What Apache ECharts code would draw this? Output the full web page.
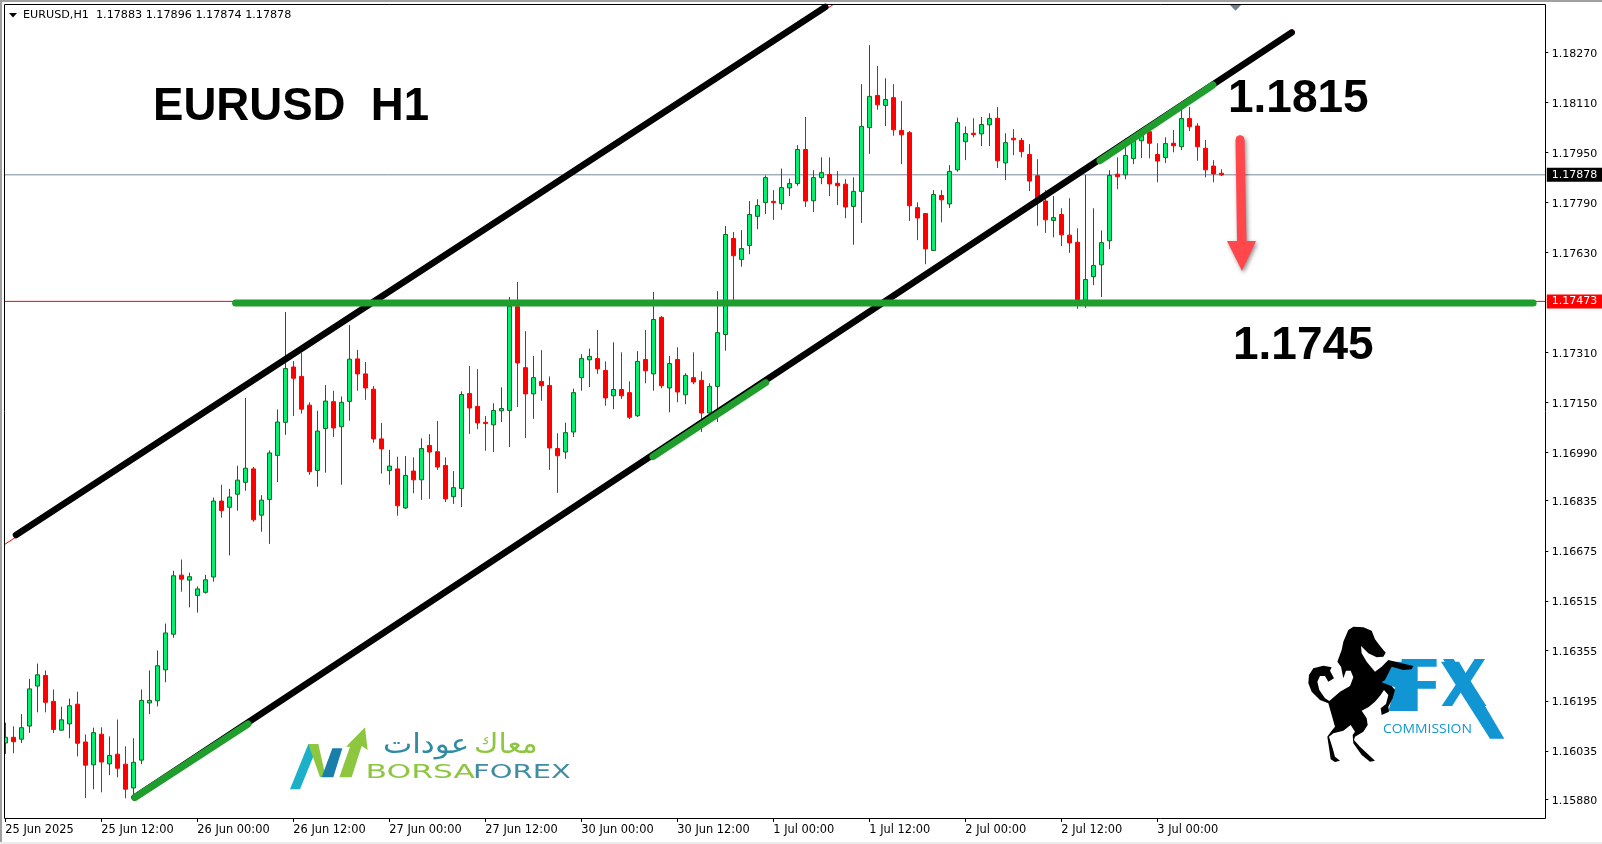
<!DOCTYPE html>
<html>
<head>
<meta charset="utf-8">
<style>html,body{margin:0;padding:0;background:#fff;overflow:hidden}#c{width:1602px;height:844px}</style>
<script src="https://cdn.jsdelivr.net/npm/echarts@6/dist/echarts.min.js"></script>
</head>
<body>
<div id="c"></div>
<script>
const opens = [
1.16060,1.16078,1.16072,1.16114,1.16242,1.16276,1.16193,1.16101,1.16121,1.16184,
1.16063,1.15990,1.16088,1.15993,1.16024,1.15992,1.15916,1.16005,1.16188,1.16195,
1.16294,1.16408,1.16597,1.16581,1.16532,1.16542,1.16591,1.16834,1.16814,1.16856,
1.16894,1.16937,1.16789,1.16839,1.16980,1.17086,1.17263,1.17233,1.17141,1.16932,
1.17066,1.17152,1.17072,1.17153,1.17289,1.17241,1.17192,1.17033,1.16932,1.16937,
1.16812,1.16930,1.16902,1.17012,1.16992,1.16948,1.16848,1.16874,1.17178,1.17137,
1.17086,1.17078,1.17123,1.17124,1.17456,1.17261,1.17177,1.17217,1.17204,1.17002,
1.16991,1.17055,1.17229,1.17286,1.17290,1.17252,1.17171,1.17191,1.17181,1.17107,
1.17287,1.17241,1.17422,1.17196,1.17287,1.17174,1.17229,1.17220,1.17116,1.17201,
1.17367,1.17674,1.17607,1.17652,1.17745,1.17789,1.17793,1.17786,1.17836,1.17850,
1.17959,1.17795,1.17869,1.17879,1.17851,1.17848,1.17777,1.17825,1.18029,1.18132,
1.18100,1.18125,1.18020,1.18013,1.17773,1.17754,1.17636,1.17812,1.17785,1.17894,
1.17984,1.18011,1.18009,1.18038,1.18059,1.17916,1.17995,1.17988,1.17943,1.17875,
1.17794,1.17732,1.17751,1.17685,1.17662,1.17477,1.17552,1.17590,1.17667,1.17880,
1.17878,1.17930,1.17987,1.18016,1.17943,1.17933,1.17979,1.17968,1.18058,1.18034,
1.17963,1.17906,1.17883];
const highs = [
1.16125,1.16113,1.16152,1.16265,1.16314,1.16292,1.16231,1.16176,1.16202,1.16224,
1.16087,1.16109,1.16110,1.16081,1.16135,1.16049,1.16075,1.16231,1.16292,1.16356,
1.16442,1.16611,1.16647,1.16605,1.16561,1.16598,1.16845,1.16886,1.16873,1.16947,
1.17164,1.16943,1.16853,1.16996,1.17127,1.17439,1.17282,1.17308,1.17150,1.17123,
1.17205,1.17187,1.17169,1.17397,1.17318,1.17279,1.17202,1.17084,1.16998,1.16976,
1.16978,1.16974,1.17035,1.17048,1.17090,1.16974,1.16930,1.17185,1.17266,1.17256,
1.17106,1.17147,1.17198,1.17487,1.17535,1.17378,1.17298,1.17317,1.17233,1.17051,
1.17085,1.17194,1.17304,1.17322,1.17381,1.17281,1.17342,1.17310,1.17217,1.17314,
1.17381,1.17503,1.17426,1.17298,1.17326,1.17243,1.17310,1.17249,1.17211,1.17506,
1.17714,1.17695,1.17701,1.17794,1.17800,1.17876,1.17829,1.17898,1.17866,1.17973,
1.18063,1.17893,1.17934,1.17934,1.17890,1.17864,1.17870,1.18168,1.18293,1.18226,
1.18187,1.18168,1.18114,1.18018,1.17790,1.17755,1.17829,1.17829,1.17909,1.18061,
1.18033,1.18059,1.18063,1.18075,1.18095,1.18011,1.18024,1.17996,1.17976,1.17928,
1.17829,1.17810,1.17771,1.17803,1.17707,1.17877,1.17771,1.17700,1.17893,1.17934,
1.17994,1.17994,1.18021,1.18026,1.17979,1.17998,1.18021,1.18090,1.18095,1.18043,
1.17989,1.17925,1.17896];
const lows = [
1.16025,1.16027,1.16060,1.16092,1.16158,1.16158,1.16092,1.16099,1.16075,1.16017,
1.15884,1.15912,1.15902,1.15957,1.15950,1.15883,1.15894,1.15992,1.16152,1.16177,
1.16254,1.16397,1.16544,1.16494,1.16477,1.16538,1.16576,1.16781,1.16660,1.16803,
1.16867,1.16768,1.16736,1.16697,1.16895,1.17046,1.17106,1.17114,1.16918,1.16880,
1.16925,1.17039,1.16886,1.17091,1.17187,1.17158,1.17021,1.16922,1.16886,1.16787,
1.16809,1.16859,1.16838,1.16841,1.16934,1.16831,1.16825,1.16815,1.17049,1.17064,
1.16995,1.16991,1.17087,1.17007,1.17135,1.17036,1.17097,1.17155,1.16934,1.16860,
1.16969,1.17039,1.17187,1.17199,1.17241,1.17139,1.17128,1.17161,1.17096,1.17103,
1.17211,1.17187,1.17195,1.17118,1.17150,1.17144,1.17208,1.17055,1.17114,1.17087,
1.17315,1.17477,1.17584,1.17624,1.17704,1.17753,1.17734,1.17766,1.17810,1.17843,
1.17775,1.17759,1.17848,1.17810,1.17781,1.17739,1.17654,1.17724,1.17945,1.18086,
1.18034,1.18003,1.17912,1.17730,1.17669,1.17592,1.17635,1.17726,1.17772,1.17888,
1.17925,1.17998,1.17970,1.17970,1.17900,1.17861,1.17941,1.17934,1.17826,1.17715,
1.17692,1.17678,1.17650,1.17628,1.17449,1.17452,1.17525,1.17487,1.17640,1.17832,
1.17864,1.17912,1.17932,1.17931,1.17854,1.17916,1.17950,1.17957,1.18018,1.17923,
1.17870,1.17854,1.17874];
const closes = [
1.16078,1.16064,1.16109,1.16233,1.16278,1.16190,1.16103,1.16134,1.16179,1.16059,
1.15989,1.16093,1.15999,1.16020,1.15979,1.15912,1.15998,1.16196,1.16196,1.16307,
1.16412,1.16595,1.16584,1.16592,1.16553,1.16582,1.16834,1.16804,1.16847,1.16901,
1.16939,1.16774,1.16837,1.16988,1.17087,1.17258,1.17227,1.17128,1.16928,1.17058,
1.17154,1.17068,1.17150,1.17288,1.17241,1.17196,1.17033,1.17001,1.16946,1.16819,
1.16916,1.16902,1.17002,1.16991,1.16943,1.16841,1.16877,1.17175,1.17132,1.17084,
1.17082,1.17124,1.17130,1.17458,1.17276,1.17177,1.17229,1.17203,1.17004,1.16979,
1.17053,1.17181,1.17290,1.17297,1.17257,1.17164,1.17191,1.17171,1.17102,1.17281,
1.17251,1.17415,1.17203,1.17274,1.17183,1.17236,1.17215,1.17116,1.17201,1.17373,
1.17687,1.17619,1.17642,1.17751,1.17780,1.17869,1.17789,1.17837,1.17850,1.17959,
1.17794,1.17869,1.17885,1.17849,1.17843,1.17775,1.17825,1.18033,1.18129,1.18102,
1.18119,1.18022,1.18006,1.17779,1.17740,1.17641,1.17815,1.17798,1.17889,1.18045,
1.18010,1.18007,1.18039,1.18058,1.17923,1.17981,1.17990,1.17952,1.17858,1.17802,
1.17734,1.17741,1.17686,1.17660,1.17477,1.17543,1.17588,1.17661,1.17876,1.17872,
1.17940,1.17989,1.18005,1.17979,1.17922,1.17978,1.17971,1.18058,1.18032,1.17968,
1.17894,1.17881,1.17878];

const timeLabels = ['25 Jun 2025','25 Jun 12:00','26 Jun 00:00','26 Jun 12:00','27 Jun 00:00','27 Jun 12:00','30 Jun 00:00','30 Jun 12:00','1 Jul 00:00','1 Jul 12:00','2 Jul 00:00','2 Jul 12:00','3 Jul 00:00'];
const labelEvery = 12;
const slotCount = 193;
const priceTicks = [1.18270,1.18110,1.17950,1.17790,1.17630,1.17310,1.17150,1.16990,1.16835,1.16675,1.16515,1.16355,1.16195,1.16035,1.15880];
const bidPrice = 1.17878;
const markedPrice = 1.17473;

// Trend lines: [bar index, price]
const upperChannel = [[1.34,1.167254],[102.5,1.184150]];
const upperChannelThin = [[0,1.166966],[103.6,1.184246]];
const lowerChannel = [[16.15,1.158854],[160.8,1.183334]];
const lowerChannelThin = [[16.15,1.158854],[161.1,1.183370]];
const lowerSegA = [[16.2,1.158854],[30.34,1.161206]];
const lowerSegB = [[80.96,1.169760],[95.05,1.172128]];
const lowerSegC = [[136.84,1.179232],[150.96,1.181654]];
const support = [[28.78,1.17468],[190.98,1.17468]];

const categories = [];
for (let i = 0; i < slotCount; i++) {
  categories.push(i % labelEvery === 0 && timeLabels[i / labelEvery] ? timeLabels[i / labelEvery] : 'b' + i);
}
const candleData = opens.map((o, i) => [o, closes[i], lows[i], highs[i]]);
const isLabelled = i => i % labelEvery === 0 && i / labelEvery < timeLabels.length;

const GREEN = '#1f9e2e', BLUE = '#1296d3';
function trend(data, color, width, z) {
  return {type:'line', xAxisIndex:1, yAxisIndex:0, data, showSymbol:false, symbol:'none', silent:true, z,
    animation:false, clip:true, lineStyle:{color, width, cap:'round'}};
}
function priceLine(price, lineColor, boxColor) {
  const s = trend([[-0.5,price],[slotCount-0.5,price]], lineColor, 1, 1);
  s.lineStyle.cap = 'butt';
  s.endLabel = {show:true, distance:1.5, formatter:()=>price.toFixed(5), backgroundColor:boxColor, color:'#fff',
    padding:[2,8,1,5], fontSize:11, fontFamily:'"DejaVu Sans"'};
  return s;
}
function poly(d, fill, z, ox, oy) {
  const nums = d.match(/-?[\d.]+/g).map(Number), pts = [];
  for (let k = 0; k < nums.length; k += 2) pts.push([ox + nums[k] / 3, oy + nums[k + 1] / 3]);
  return {type:'polygon', shape:{points:pts}, style:{fill}, z:z||20, silent:true};
}
function label(text, x, y, font, fill, extra) {
  return Object.assign({type:'text', z:30, silent:true, style:{x, y, text, font, fill, textVerticalAlign:'middle'}}, extra||{});
}
function wide(text, x, y, font, fill, sx) {
  return {type:'text', z:30, silent:true, x, y, scaleX:sx, style:{x:0, y:0, text, font, fill, textVerticalAlign:'middle'}};
}

const graphics = [
  // window frame
  {type:'rect', shape:{x:0,y:0,width:4.5,height:844}, style:{fill:'#fff'}, z:15, silent:true},
  {type:'rect', shape:{x:0,y:0,width:1602,height:2}, style:{fill:'#a0a0a0'}, z:40, silent:true},
  {type:'rect', shape:{x:0,y:0,width:2,height:844}, style:{fill:'#a0a0a0'}, z:40, silent:true},
  {type:'rect', shape:{x:0,y:842,width:1602,height:2}, style:{fill:'#ececec'}, z:40, silent:true},
  {type:'rect', shape:{x:4.5,y:4.5,width:1541,height:814}, style:{fill:'none',stroke:'#000',lineWidth:1}, z:16, silent:true},
  // title row
  {type:'polygon', shape:{points:[[9,13],[17,13],[13,17.5]]}, style:{fill:'#000'}, z:30, silent:true},
  wide('EURUSD,H1  1.17883 1.17896 1.17874 1.17878', 23, 15, '11px "DejaVu Sans"', '#000', 1.015),
  {type:'polygon', shape:{points:[[1230,5],[1241,5],[1235.5,10.7]]}, style:{fill:'#708090'}, z:30, silent:true},
  // big labels
  label('EURUSD  H1', 153, 107, 'bold 45.6px "Liberation Sans"', '#000'),
  label('1.1815', 1228, 99, 'bold 46px "Liberation Sans"', '#000'),
  label('1.1745', 1233, 346, 'bold 46px "Liberation Sans"', '#000'),
  // arrow
  {type:'polygon', z:25, silent:true, shape:{points:[[1235.5,140],[1236.5,136.5],[1240,135],[1243.5,136.5],[1244.5,140],[1246.5,241],[1256,241],[1242,271],[1227,241],[1237,241]]},
    style:{fill:'#ff474c', shadowBlur:4, shadowColor:'rgba(0,0,0,0.45)', shadowOffsetX:1.5, shadowOffsetY:2}},
  // FX Commission logo
  poly('400,185 473,185 473,333 385,333 405,262 365,248', BLUE, 20, 1260, 600),
  label('F', 1397, 687, 'bold 69px "Liberation Sans"', BLUE, {z:21}),
  label('X', 1441, 687, 'bold 69px "Liberation Sans"', BLUE, {z:21}),
  poly('543,185 597,185 733,416 690,416', BLUE, 21, 1260, 600),
  wide('COMMISSION', 1383, 729, '500 13.5px "Open Sans"', BLUE, 1.03),
  poly('265,90 280,80 310,82 335,92 345,118 362,140 377,158 370,170 350,172 325,160 303,138 305,160 320,185 345,215 365,200 385,180 425,190 460,198 455,208 430,210 395,200 375,240 365,247 395,258 405,270 398,295 385,320 387,335 365,345 362,325 378,312 385,285 372,270 362,285 345,305 325,322 305,332 320,355 323,375 310,395 285,410 282,420 300,440 345,482 330,485 305,465 280,430 278,405 285,395 272,375 250,392 220,400 207,410 218,445 225,470 240,482 225,486 212,478 208,450 202,410 215,392 225,380 215,345 205,310 180,300 155,275 145,250 147,225 160,205 190,197 215,202 210,212 222,235 205,245 195,228 180,228 172,245 178,270 195,295 208,303 240,275 270,258 280,232 272,212 258,212 250,235 243,200 232,185 245,150 250,125', '#000', 24, 1260, 600),
  // Borsaforex logo
  poly('60,268 115,132 145,132 90,268', '#1cb0c9', 20, 270, 700),
  poly('115,132 145,132 167,230 150,232', '#8dc63f', 20, 270, 700),
  poly('155,232 187,145 217,145 190,232', '#1a7fa8', 21, 270, 700),
  poly('208,232 240,140 228,140 285,82 293,150 275,138 245,232', '#8dc63f', 20, 270, 700),
  wide('معاك', 474, 746, '27px "DejaVu Sans"', '#8dc63f', 1.1),
  wide('عودات', 383, 746, '27px "DejaVu Sans"', '#2e8ba3', 1.15),
  wide('BORSA', 365.5, 773, '20px "DejaVu Sans"', '#8dc63f', 1.57),
  wide('FOREX', 473, 773, '20px "DejaVu Sans"', '#3f8ca3', 1.45)
];

const chart = echarts.init(document.getElementById('c'), null, {renderer:'canvas', width:1602, height:844});
chart.setOption({
  animation:false,
  backgroundColor:'#fff',
  grid:{left:1.3, top:4.5, width:1544, height:813.5, containLabel:false, show:false},
  xAxis:[
    {type:'category', data:categories, boundaryGap:true,
      axisLine:{show:false, onZero:false},
      axisTick:{show:true, alignWithLabel:true, length:4, interval:(i)=>isLabelled(i), lineStyle:{color:'#000',width:1}},
      axisLabel:{show:true, interval:(i)=>isLabelled(i), align:'left', margin:6.5, color:'#000', fontSize:11.4, fontFamily:'"DejaVu Sans"',
        hideOverlap:false},
      splitLine:{show:false}},
    {type:'value', min:-0.5, max:slotCount-0.5, show:false, axisLine:{onZero:false}, splitLine:{show:false}}
  ],
  yAxis:{type:'value', position:'right', min:1.158198, max:1.184230, scale:true,
    axisLine:{show:false, onZero:false}, splitLine:{show:false},
    axisTick:{show:true, length:3, customValues:priceTicks, lineStyle:{color:'#000'}},
    axisLabel:{customValues:priceTicks, margin:6.5, color:'#000', fontSize:11, fontFamily:'"DejaVu Sans"',
      formatter:(v)=>'{p|'+v.toFixed(5)+'}',
      rich:{p:{padding:[3,0,0,0], color:'#000', fontSize:11, fontFamily:'"DejaVu Sans"'}}}},
  series:[
    priceLine(bidPrice,'#778899','#000'),
    priceLine(markedPrice,'#ff0000','#ff0000'),
    {type:'candlestick', data:candleData, barWidth:5, z:2, animation:false, silent:true,
      itemStyle:{color:'#00f072', borderColor:'#0a6b1e', color0:'#ff0000', borderColor0:'#ff0000', borderWidth:1}},
    trend(upperChannelThin,'#ff0000',1,3),
    trend(lowerChannelThin,'#ff0000',1,3),
    trend(upperChannel,'#000',6.5,4),
    trend(lowerChannel,'#000',6.5,4),
    trend(lowerSegA,GREEN,7,5),
    trend(lowerSegB,GREEN,7,5),
    trend(lowerSegC,GREEN,7,5),
    trend(support,GREEN,7,6)
  ],
  graphic:{elements:graphics}
});
</script>
</body>
</html>
